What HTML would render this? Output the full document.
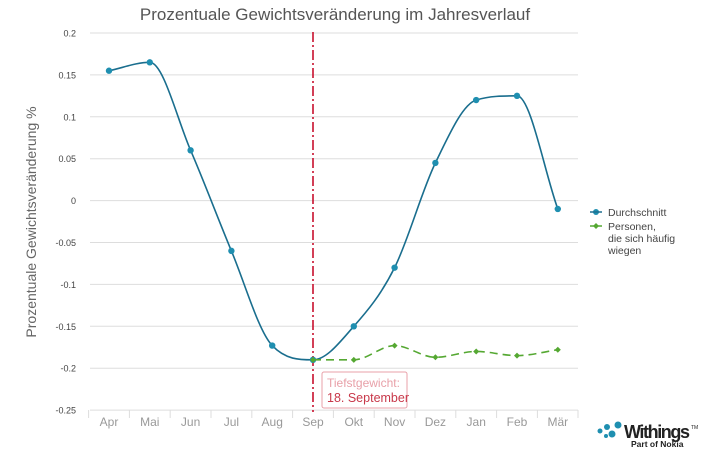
<!DOCTYPE html>
<html><head><meta charset="utf-8"><style>
body{margin:0;background:#fff;width:710px;height:448px;overflow:hidden;font-family:"Liberation Sans",sans-serif;}
</style></head><body>
<svg id="s" width="710" height="448" xmlns="http://www.w3.org/2000/svg" font-family="Liberation Sans, sans-serif">
<text x="335" y="20" text-anchor="middle" font-size="17" fill="#555">Prozentuale Gewichtsveränderung im Jahresverlauf</text>
<text transform="translate(36,222) rotate(-90)" text-anchor="middle" font-size="14" fill="#666">Prozentuale Gewichtsveränderung %</text>
<g id="g"></g>
<rect x="322" y="372" width="85" height="36" fill="#fff" stroke="#e8a0a8" rx="2"/>
<text x="327" y="387" font-size="12" fill="#e8a0a8">Tiefstgewicht:</text>
<text x="327" y="402" font-size="12.5" fill="#c8384a">18. September</text>
<circle cx="596" cy="212" r="3" fill="#1f8fb0"/><line x1="590" y1="212" x2="602" y2="212" stroke="#1f6f90" stroke-width="1.5"/>
<text x="608" y="216" font-size="10.5" fill="#444">Durchschnitt</text>
<line x1="590" y1="226" x2="602" y2="226" stroke="#55a832" stroke-width="1.5"/><path d="M596 223l3 3-3 3-3-3z" fill="#55a832"/>
<text x="608" y="230" font-size="10.5" fill="#444">Personen,</text>
<text x="608" y="242" font-size="10.5" fill="#444">die sich häufig</text>
<text x="608" y="254" font-size="10.5" fill="#444">wiegen</text>
<circle cx="600" cy="431" r="2.5" fill="#1f8fb0"/><circle cx="607" cy="427" r="3" fill="#1f8fb0"/><circle cx="612" cy="434" r="3.5" fill="#1f8fb0"/><circle cx="618" cy="425" r="3.5" fill="#1f8fb0"/><circle cx="606" cy="436" r="2" fill="#1f8fb0"/>
<text x="624" y="438" font-size="18" font-weight="bold" fill="#222" textLength="66">Withings</text><text x="691" y="429" font-size="5" fill="#222">TM</text>
<text x="631" y="447" font-size="8.5" font-weight="bold" fill="#222">Part of Nokia</text>
</svg>
<script>
var g=document.getElementById('g'),h='';
var Y=v=>200.6-v*838, X=i=>109+i*40.8;
var labs=['0.2','0.15','0.1','0.05','0','-0.05','-0.1','-0.15','-0.2','-0.25'];
for(var k=0;k<10;k++){var v=0.2-k*0.05,y=Y(v);h+='<line x1="90" x2="578" y1="'+y+'" y2="'+y+'" stroke="#ddd"/>';h+='<text x="76" y="'+(y+3.5)+'" text-anchor="end" font-size="9" fill="#444">'+labs[k]+'</text>';}
var m=['Apr','Mai','Jun','Jul','Aug','Sep','Okt','Nov','Dez','Jan','Feb','Mär'];
for(var i=0;i<12;i++){h+='<text x="'+X(i)+'" y="426" text-anchor="middle" font-size="12" fill="#999">'+m[i]+'</text>';h+='<line x1="'+(X(i)-20.4)+'" x2="'+(X(i)-20.4)+'" y1="410" y2="418" stroke="#ddd"/>';}
h+='<line x1="578" x2="578" y1="410" y2="418" stroke="#ddd"/>';
h+='<line x1="313" x2="313" y1="32" y2="412" stroke="#c8102e" stroke-width="1.6" stroke-dasharray="10,3,2,3"/>';
function path(p){var n=p.length,d=[],t=[];for(var i=0;i<n-1;i++)d.push((p[i+1][1]-p[i][1])/(p[i+1][0]-p[i][0]));
for(var i=0;i<n;i++){if(i==0)t.push(d[0]);else if(i==n-1)t.push(d[n-2]);else t.push(d[i-1]*d[i]<=0?0:(d[i-1]+d[i])/2);}
for(var i=0;i<n-1;i++){if(d[i]==0){t[i]=t[i+1]=0;continue;}var a=t[i]/d[i],b=t[i+1]/d[i],s=a*a+b*b;if(s>9){var q=3/Math.sqrt(s);t[i]=q*a*d[i];t[i+1]=q*b*d[i];}}
var s='M'+p[0];for(var i=0;i<n-1;i++){var dx=(p[i+1][0]-p[i][0])/3;s+=' C'+(p[i][0]+dx)+','+(p[i][1]+t[i]*dx)+' '+(p[i+1][0]-dx)+','+(p[i+1][1]-t[i+1]*dx)+' '+p[i+1][0]+','+p[i+1][1];}return s;}
var b=[.155,.165,.06,-.06,-.173,-.19,-.15,-.08,.045,.12,.125,-.01].map((v,i)=>[X(i),Y(v)]);
h+='<path d="'+path(b)+'" fill="none" stroke="#1a6e8e" stroke-width="1.6"/>';
b.forEach(p=>h+='<circle cx="'+p[0]+'" cy="'+p[1]+'" r="3.2" fill="#1f8fb0"/>');
var gr=[-.19,-.19,-.173,-.187,-.18,-.185,-.178].map((v,i)=>[X(i+5),Y(v)]);
h+='<path d="'+path(gr)+'" fill="none" stroke="#55a832" stroke-width="1.6" stroke-dasharray="8,5"/>';
gr.forEach(p=>h+='<path d="M'+p[0]+' '+(p[1]-3)+'l3 3-3 3-3-3z" fill="#55a832"/>');
g.innerHTML=h;
</script>
</body></html>
